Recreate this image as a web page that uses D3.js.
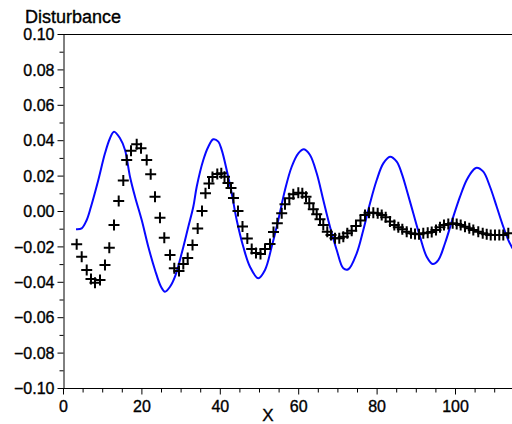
<!DOCTYPE html>
<html><head><meta charset="utf-8">
<script src="https://cdn.jsdelivr.net/npm/d3@7"></script>
<style>
html,body{margin:0;padding:0;background:#fff;overflow:hidden}
svg{display:block}
</style></head>
<body>
<script>
// ---- data ----
const lineX = [3.32,4.77,6.05,7.14,9.01,10.71,11.99,13.01,14.54,15.82,17.09,18.37,20.08,21.76,23.47,25.00,26.02,27.30,28.57,30.28,31.97,33.24,34.11,35.79,37.07,38.34,39.62,40.48,41.76,43.04,44.31,45.99,47.70,49.82,51.53,53.24,54.92,56.63,58.34,60.03,61.48,63.01,64.72,66.40,68.11,69.82,71.51,72.78,74.92,76.61,78.32,80.03,81.71,83.42,85.13,86.40,87.68,89.36,91.07,92.78,94.31,95.74,97.45,99.57,101.28,102.98,104.67,105.54,107.22,108.93,110.64,112.32,113.60,114.46,116.0];
const lineY = [-0.0103,-0.0098,-0.0051,0.0024,0.0175,0.0326,0.0411,0.0448,0.0411,0.0345,0.0194,0.0081,-0.0051,-0.0202,-0.0333,-0.0428,-0.0456,-0.0428,-0.0371,-0.0239,-0.0089,0.0024,0.0137,0.0288,0.0363,0.0405,0.0392,0.0345,0.0232,0.0100,-0.0051,-0.0202,-0.0315,-0.0380,-0.0333,-0.0202,-0.0051,0.0119,0.0250,0.0326,0.0349,0.0316,0.0213,0.0062,-0.0089,-0.0220,-0.0324,-0.0329,-0.0239,-0.0107,0.0044,0.0175,0.0269,0.0307,0.0279,0.0213,0.0119,-0.0013,-0.0145,-0.0258,-0.0299,-0.0277,-0.0182,-0.0032,0.0081,0.0175,0.0232,0.0245,0.0222,0.0137,0.0024,-0.0089,-0.0164,-0.0202,-0.0260];

const markX = [3.49,4.77,6.05,7.14,8.16,9.44,10.71,11.81,13.01,14.21,15.38,16.25,17.35,18.80,19.90,21.35,22.37,23.47,24.74,25.84,27.30,28.39,29.59,30.69,31.81,33.04,34.36,35.46,36.35,37.24,38.14,39.36,40.38,41.20,42.09,42.86,43.49,44.64,45.79,47.02,48.14,49.23,50.38,51.53,52.81,53.70,54.67,55.79,56.63,57.73,58.75,60.03,61.05,61.99,62.83,63.85,64.72,65.56,66.40,67.42,68.37,69.39,70.48,71.51,72.53,73.65,74.74,75.89,77.04,78.06,79.16,80.28,81.30,82.32,83.42,84.52,85.54,86.56,87.68,88.78,89.80,90.82,91.91,93.04,94.06,95.15,96.17,97.19,98.29,99.41,100.43,101.45,102.55,103.65,104.67,105.94,107.07,108.09,109.11,110.20,111.30,112.32,113.60];
const markY = [-0.0188,-0.0258,-0.0333,-0.0384,-0.0405,-0.0390,-0.0305,-0.0207,-0.0079,0.0056,0.0173,0.0288,0.0341,0.0377,0.0354,0.0288,0.0207,0.0081,-0.0038,-0.0151,-0.0249,-0.0324,-0.0339,-0.0299,-0.0266,-0.0192,-0.0099,0.0000,0.0100,0.0156,0.0192,0.0209,0.0213,0.0194,0.0158,0.0130,0.0073,0.0000,-0.0088,-0.0155,-0.0215,-0.0237,-0.0243,-0.0215,-0.0186,-0.0119,-0.0069,-0.0013,0.0038,0.0072,0.0094,0.0103,0.0100,0.0081,0.0044,0.0010,-0.0019,-0.0047,-0.0079,-0.0117,-0.0136,-0.0154,-0.0154,-0.0145,-0.0126,-0.0111,-0.0085,-0.0054,-0.0023,-0.0010,-0.0010,-0.0013,-0.0023,-0.0036,-0.0060,-0.0079,-0.0092,-0.0103,-0.0117,-0.0126,-0.0130,-0.0132,-0.0126,-0.0123,-0.0119,-0.0107,-0.0092,-0.0079,-0.0073,-0.0069,-0.0073,-0.0079,-0.0089,-0.0098,-0.0107,-0.0117,-0.0126,-0.0132,-0.0136,-0.0136,-0.0136,-0.0136,-0.0126];

const xMajorTicks = [0,20,40,60,80,100];
const xMinorTicks = [5,10,15,25,30,35,45,50,55,65,70,75,85,90,95,105,110,115];
const yMajorTicks = [-0.10,-0.08,-0.06,-0.04,-0.02,0.00,0.02,0.04,0.06,0.08,0.10];
const yMinorTicks = [-0.09,-0.07,-0.05,-0.03,-0.01,0.01,0.03,0.05,0.07,0.09];
const yTitle = "Disturbance";
const xTitle = "X";

// ---- chart ----
const W = 512, H = 424;
const x0 = 63, xPerUnit = 3.92;
const xDomainMax = 120;
const x = d3.scaleLinear().domain([0, xDomainMax]).range([x0, x0 + xDomainMax * xPerUnit]);
const y = d3.scaleLinear().domain([-0.10, 0.10]).range([388, 34]);

const svg = d3.select("body").append("svg").attr("width", W).attr("height", H);
const font = "'Liberation Sans', Arial, Helvetica, sans-serif";
const heavy = sel => sel.attr("stroke", "#000").attr("stroke-width", 0.35).attr("paint-order", "stroke");

svg.append("defs").append("clipPath").attr("id","plot")
  .append("rect").attr("x", x0).attr("y", 28).attr("width", W - x0).attr("height", 366);

// top frame line
svg.append("line").attr("x1", x0).attr("x2", W).attr("y1", y(0.10) + 0.5).attr("y2", y(0.10) + 0.5)
  .attr("stroke", "#000").attr("stroke-width", 1);

// x axis
const gx = svg.append("g").attr("transform", `translate(0,${y(-0.10) + 0.5})`)
  .call(d3.axisBottom(x).tickValues(xMajorTicks).tickSize(6).tickSizeOuter(0).tickFormat(d3.format("d")));
gx.select(".domain").attr("d", `M${x0},0H${W}`);
gx.selectAll("text").attr("font-family", font).attr("font-size", 16).attr("fill", "#000").attr("dy", "0.71em").attr("y", 12).call(heavy);
svg.append("g").attr("transform", `translate(0,${y(-0.10) + 0.5})`)
  .call(d3.axisBottom(x).tickValues(xMinorTicks).tickSize(4).tickSizeOuter(0).tickFormat(""))
  .select(".domain").remove();

// y axis
const fmtY = v => (v < 0 ? "\u2212" : "") + Math.abs(v).toFixed(2);
const gy = svg.append("g").attr("transform", `translate(${x0 + 0.5},0)`)
  .call(d3.axisLeft(y).tickValues(yMajorTicks).tickSize(6).tickSizeOuter(0).tickFormat(fmtY));
gy.selectAll("text").attr("font-family", font).attr("font-size", 16).attr("fill", "#000").attr("x", -9).attr("dy", "0.36em").call(heavy);
svg.append("g").attr("transform", `translate(${x0 + 0.5},0)`)
  .call(d3.axisLeft(y).tickValues(yMinorTicks).tickSize(4).tickSizeOuter(0).tickFormat(""))
  .select(".domain").remove();
svg.selectAll(".tick line, .domain").attr("stroke", "#000");

// titles
svg.append("text").attr("x", 25).attr("y", 23).attr("font-family", font).attr("font-size", 18)
  .attr("fill", "#000").text(yTitle).call(heavy);
svg.append("text").attr("x", 268).attr("y", 421).attr("text-anchor", "middle").attr("font-family", font)
  .attr("font-size", 17).attr("fill", "#000").text(xTitle).call(heavy);

// blue line
const lineData = lineX.map((v, i) => [v, lineY[i]]);
svg.append("path").attr("clip-path", "url(#plot)")
  .datum(lineData)
  .attr("fill", "none").attr("stroke", "#0808ff").attr("stroke-width", 2)
  .attr("d", d3.line().x(d => x(d[0])).y(d => y(d[1])).curve(d3.curveCatmullRom.alpha(0.5)));

// plus markers
const markData = markX.map((v, i) => [v, markY[i]]);
const s = 5.5;
svg.append("g").attr("clip-path", "url(#plot)").selectAll("path").data(markData).join("path")
  .attr("d", d => { const cx = x(d[0]), cy = y(d[1]); return `M${cx - s},${cy}H${cx + s}M${cx},${cy - s}V${cy + s}`; })
  .attr("stroke", "#000").attr("stroke-width", 2).attr("fill", "none");
</script>
</body></html>
